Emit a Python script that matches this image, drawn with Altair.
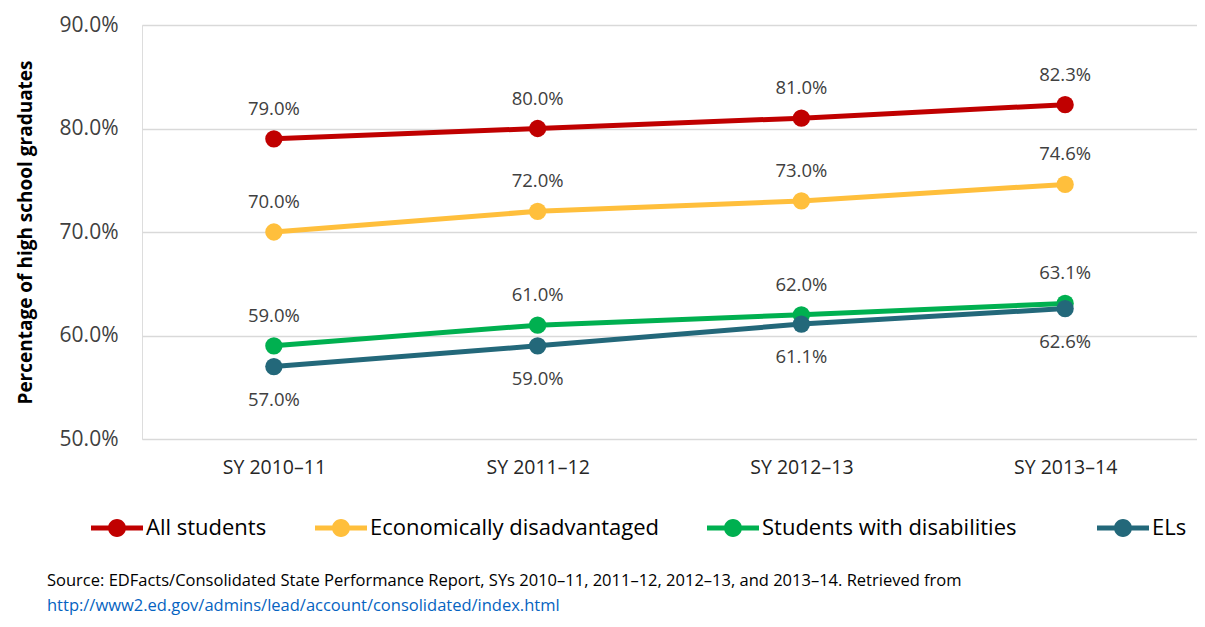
import altair as alt
import pandas as pd

years = ["SY 2010–11", "SY 2011–12", "SY 2012–13", "SY 2013–14"]
series = ["All students", "Economically disadvantaged", "Students with disabilities", "ELs"]
all_students = [79.0, 80.0, 81.0, 82.3]
econ = [70.0, 72.0, 73.0, 74.6]
swd = [59.0, 61.0, 62.0, 63.1]
els = [57.0, 59.0, 61.1, 62.6]
colors = ["#C00000", "#FFBF3C", "#00B050", "#23687A"]

rows = []
for name, vals in zip(series, [all_students, econ, swd, els]):
    for y, v in zip(years, vals):
        rows.append({"year": y, "series": name, "value": v})
df = pd.DataFrame(rows)

FONT = "Open Sans"

x = alt.X("year:N", sort=years, title=None,
          scale=alt.Scale(type="point", padding=0.5),
          axis=alt.Axis(labelFontSize=19.5, labelColor="#262626", labelFont=FONT,
                        labelPadding=19, domain=False, ticks=False, grid=False,
                        labelAngle=0))
y = alt.Y("value:Q", title="Percentage of high school graduates",
          scale=alt.Scale(domain=[50, 90], nice=False, zero=False),
          axis=alt.Axis(values=[50, 60, 70, 80, 90],
                        labelExpr="format(datum.value, '.1f') + '%'",
                        labelFontSize=21, labelColor="#404040", labelFont=FONT,
                        labelPadding=24, domain=False, ticks=False,
                        grid=True, gridColor="#D9D9D9", gridWidth=1.5,
                        titleFontSize=19, titleFont=FONT, titleFontWeight="bold",
                        titleColor="#000000", titlePadding=24))

legend_path = ("M-2.6,-0.26H2.6V0.26H-2.6Z "
               "M0.9,0A0.9,0.9 0 1,1 -0.9,0A0.9,0.9 0 1,1 0.9,0Z")

pad = "\u2800" * 2
color = alt.Color("series:N", sort=series,
                  scale=alt.Scale(domain=series, range=colors),
                  legend=alt.Legend(title=None, orient="none", direction="horizontal",
                                    legendX=-36, legendY=492,
                                    symbolType=legend_path, symbolSize=400,
                                    symbolStrokeWidth=0, labelOffset=18,
                                    labelFontSize=22, labelFont=FONT,
                                    labelColor="#000000", columnPadding=48,
                                    labelExpr="datum.label == 'Students with disabilities' ? datum.label + '" + pad + "' : datum.label",
                                    labelLimit=500))

base = alt.Chart(df).encode(x=x, y=y)

lines = base.mark_line(strokeWidth=5).encode(color=color)
points = base.mark_circle(size=300, opacity=1).encode(color=alt.Color("series:N", sort=series,
                  scale=alt.Scale(domain=series, range=colors), legend=None))

above = base.transform_filter(alt.datum.series != "ELs").transform_calculate(
    lab="format(datum.value, '.1f') + '%'").mark_text(
    dy=-30, fontSize=18.5, font=FONT, color="#404040").encode(text="lab:N")
below = base.transform_filter(alt.datum.series == "ELs").transform_calculate(
    lab="format(datum.value, '.1f') + '%'").mark_text(
    dy=33, fontSize=18.5, font=FONT, color="#404040").encode(text="lab:N")

chart = alt.layer(lines, points, above, below).properties(
    width=1055, height=414,
    padding={"left": 8, "right": 0, "top": 6, "bottom": 5},
    title=alt.TitleParams(
        text="Source: EDFacts/Consolidated State Performance Report, SYs 2010–11, 2011–12, 2012–13, and 2013–14. Retrieved from",
        subtitle="http://www2.ed.gov/admins/lead/account/consolidated/index.html",
        orient="bottom", anchor="start", frame="group", dx=-95, offset=34,
        fontSize=16.5, font=FONT, fontWeight="normal", color="#000000",
        subtitleFontSize=16.5, subtitleFont=FONT, subtitleColor="#0563C1",
        subtitlePadding=8),
).configure_view(stroke=None).configure(background="white")

chart.save("out.html", embed_options={"renderer": "svg", "actions": False})
